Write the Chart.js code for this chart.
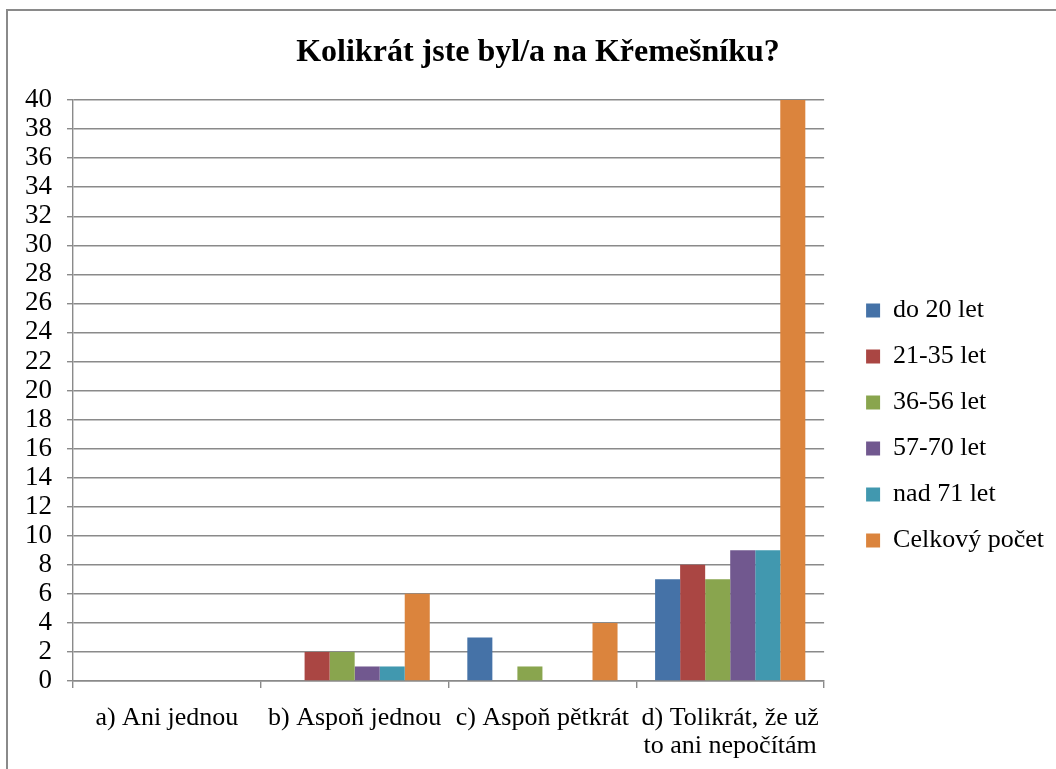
<!DOCTYPE html>
<html lang="cs">
<head>
<meta charset="utf-8">
<title>Kolikrát jste byl/a na Křemešníku?</title>
<script src="https://cdn.jsdelivr.net/npm/chart.js@4.4.1/dist/chart.umd.min.js"></script>
<style>
  html, body { margin: 0; padding: 0; background: #fff; }
  #wrap { position: relative; width: 1056px; height: 769px; overflow: hidden; }
  #frame {
    position: absolute; left: 6px; top: 9px; right: -10px; bottom: -10px;
    border-left: 2px solid #8a8a8a; border-top: 2px solid #8a8a8a;
    pointer-events: none;
  }
  canvas { position: absolute; left: 0; top: 0; }
</style>
</head>
<body>
<div id="wrap">
  <canvas id="chart" width="1056" height="769"></canvas>
  <div id="frame"></div>
</div>
<script>
// data
const categories = [
  'a) Ani jednou',
  'b) Aspoň jednou',
  'c) Aspoň pětkrát',
  ['d) Tolikrát, že už', 'to ani nepočítám']
];
const seriesNames = ['do 20 let', '21-35 let', '36-56 let', '57-70 let', 'nad 71 let', 'Celkový počet'];
const do20 = [0, 0, 3, 7];
const od21do35 = [0, 2, 0, 8];
const od36do56 = [0, 2, 1, 7];
const od57do70 = [0, 1, 0, 9];
const nad71 = [0, 1, 0, 9];
const celkem = [0, 6, 4, 40];
const seriesColors = ['#4572a7', '#aa4643', '#89a54e', '#71588f', '#4198af', '#db843d'];

const serif = "'Liberation Serif', 'Times New Roman', serif";
const gridGray = '#8a8a8a';

const allSeries = [do20, od21do35, od36do56, od57do70, nad71, celkem];

// legend sits a bit away from the plot and lower than centred
const LEGEND_GAP = 22;
const LEGEND_DY = 41;

function shiftDraw(box, dx, dy) {
  const draw = box.draw;
  box.draw = function (...args) {
    const c = this.ctx;
    c.save();
    c.translate(dx, dy);
    draw.apply(this, args);
    c.restore();
  };
}

const boxTweaks = {
  id: 'boxTweaks',
  afterInit(chart) {
    const lg = chart.legend;
    const fit = lg.fit;
    lg.fit = function () {
      fit.call(this);
      this.width += LEGEND_GAP;
    };
    shiftDraw(lg, LEGEND_GAP, LEGEND_DY);
  }
};

const ctx = document.getElementById('chart').getContext('2d');
new Chart(ctx, {
  type: 'bar',
  data: {
    labels: categories,
    datasets: allSeries.map((vals, i) => ({
      label: seriesNames[i],
      data: vals,
      backgroundColor: seriesColors[i],
      borderWidth: 0,
      categoryPercentage: 0.8,
      barPercentage: 1.0
    }))
  },
  options: {
    responsive: false,
    devicePixelRatio: 1,
    animation: false,
    layout: { padding: { left: 22, right: 2, top: 0, bottom: 0 } },
    plugins: {
      tooltip: { enabled: false },
      title: {
        display: true,
        text: 'Kolikrát jste byl/a na Křemešníku?',
        color: '#000',
        font: { family: serif, size: 32, weight: 'bold' },
        padding: { top: 34, bottom: 27.6 }
      },
      legend: {
        position: 'right',
        labels: {
          color: '#000',
          font: { family: serif, size: 26 },
          boxWidth: 14,
          boxHeight: 14,
          padding: 20
        }
      }
    },
    scales: {
      x: {
        grid: { drawOnChartArea: false, color: gridGray, lineWidth: 1.4, tickLength: 7 },
        border: { color: gridGray, width: 1.4 },
        ticks: {
          color: '#000',
          font: { family: serif, size: 26, lineHeight: 1.08 },
          padding: 16,
          maxRotation: 0,
          autoSkip: false
        },
        afterFit: (s) => { s.height = 88; }
      },
      y: {
        min: 0,
        max: 40,
        grid: { color: gridGray, lineWidth: 1.4, tickLength: 6 },
        border: { color: gridGray, width: 1.4 },
        ticks: {
          stepSize: 2,
          autoSkip: false,
          color: '#000',
          font: { family: serif, size: 27, lineHeight: 1 },
          padding: 15
        },
        afterFit: (s) => { s.width = 51; }
      }
    }
  },
  plugins: [boxTweaks]
});
</script>
</body>
</html>
